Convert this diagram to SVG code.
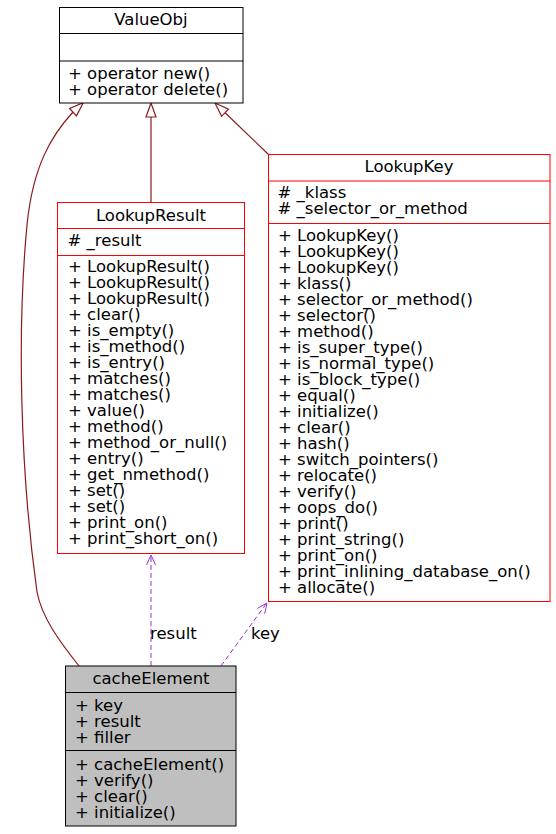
<svg xmlns="http://www.w3.org/2000/svg" width="556" height="834" viewBox="0 0 556 834">
<style>
text{font-family:"DejaVu Sans","Liberation Sans",sans-serif;font-size:16.5px;fill:#000}
.t{text-anchor:middle}
.box{fill:#fff;stroke:#000;stroke-width:1}
.rbox{fill:#fff;stroke:#ff0000;stroke-width:1}
.gbox{fill:#bfbfbf;stroke:#000;stroke-width:1}
.div{stroke:#000;stroke-width:1}
.rdiv{stroke:#ff0000;stroke-width:1}
.inh{fill:none;stroke:#8b1a1a;stroke-width:1.2}
.inhh{fill:#fff;stroke:#8b1a1a;stroke-width:1.2}
.col{fill:none;stroke:#9a32cd;stroke-width:1;stroke-dasharray:5,3}
.colh{fill:none;stroke:#9a32cd;stroke-width:1}
</style>
<rect width="556" height="834" fill="#fff"/>
<g id="connectors">
<path class="inh" d="M79,666 C60,642 42,618 37,592 C20,470 17,330 27,225 C33,165 52,135 73,112"/>
<polygon class="inhh" points="83.3,102.7 76.4,115.9 69.6,108.5"/>
<line class="inh" x1="151" y1="202.5" x2="151" y2="117"/>
<polygon class="inhh" points="151,103 146,117 156,117"/>
<line class="inh" x1="268.5" y1="154.5" x2="225.1" y2="112.7"/>
<polygon class="inhh" points="215,103 228.5,109.1 221.6,116.3"/>
<line class="col" x1="151" y1="666" x2="151" y2="556"/>
<polyline class="colh" points="146.5,565 151,555 155.5,565"/>
<text x="150" y="639">result</text>
<line class="col" x1="221" y1="666" x2="266" y2="604"/>
<polyline class="colh" points="257.4,608.4 267,603 264.7,613.7"/>
<text x="251" y="639">key</text>
</g>
<g id="ValueObj">
<rect class="box" x="59.5" y="7.5" width="183.5" height="95.5"/>
<line class="div" x1="59.5" y1="33.5" x2="243" y2="33.5"/>
<line class="div" x1="59.5" y1="61" x2="243" y2="61"/>
<text class="t" x="151" y="25">ValueObj</text>
<text x="68" y="79">+ operator new()</text>
<text x="68" y="95">+ operator delete()</text>
</g>
<g id="LookupResult">
<rect class="rbox" x="57.5" y="202.5" width="187" height="351"/>
<line class="rdiv" x1="57.5" y1="228.5" x2="244.5" y2="228.5"/>
<line class="rdiv" x1="57.5" y1="255.5" x2="244.5" y2="255.5"/>
<text class="t" x="151" y="221">LookupResult</text>
<text x="67.5" y="246"># _result</text>
<text x="68" y="272">+ LookupResult()</text>
<text x="68" y="288">+ LookupResult()</text>
<text x="68" y="304">+ LookupResult()</text>
<text x="68" y="320">+ clear()</text>
<text x="68" y="336">+ is_empty()</text>
<text x="68" y="352">+ is_method()</text>
<text x="68" y="368">+ is_entry()</text>
<text x="68" y="384">+ matches()</text>
<text x="68" y="400">+ matches()</text>
<text x="68" y="416">+ value()</text>
<text x="68" y="432">+ method()</text>
<text x="68" y="448">+ method_or_null()</text>
<text x="68" y="464">+ entry()</text>
<text x="68" y="480">+ get_nmethod()</text>
<text x="68" y="496">+ set()</text>
<text x="68" y="512">+ set()</text>
<text x="68" y="528">+ print_on()</text>
<text x="68" y="544">+ print_short_on()</text>
</g>
<g id="LookupKey">
<rect class="rbox" x="268.5" y="154.5" width="281.5" height="447"/>
<line class="rdiv" x1="268.5" y1="181" x2="550" y2="181"/>
<line class="rdiv" x1="268.5" y1="223.5" x2="550" y2="223.5"/>
<text class="t" x="409" y="172">LookupKey</text>
<text x="277.5" y="198"># _klass</text>
<text x="277.5" y="214"># _selector_or_method</text>
<text x="278" y="241">+ LookupKey()</text>
<text x="278" y="257">+ LookupKey()</text>
<text x="278" y="273">+ LookupKey()</text>
<text x="278" y="289">+ klass()</text>
<text x="278" y="305">+ selector_or_method()</text>
<text x="278" y="321">+ selector()</text>
<text x="278" y="337">+ method()</text>
<text x="278" y="353">+ is_super_type()</text>
<text x="278" y="369">+ is_normal_type()</text>
<text x="278" y="385">+ is_block_type()</text>
<text x="278" y="401">+ equal()</text>
<text x="278" y="417">+ initialize()</text>
<text x="278" y="433">+ clear()</text>
<text x="278" y="449">+ hash()</text>
<text x="278" y="465">+ switch_pointers()</text>
<text x="278" y="481">+ relocate()</text>
<text x="278" y="497">+ verify()</text>
<text x="278" y="513">+ oops_do()</text>
<text x="278" y="529">+ print()</text>
<text x="278" y="545">+ print_string()</text>
<text x="278" y="561">+ print_on()</text>
<text x="278" y="577">+ print_inlining_database_on()</text>
<text x="278" y="593">+ allocate()</text>
</g>
<g id="cacheElement">
<rect class="gbox" x="65.5" y="666" width="170.5" height="160"/>
<line class="div" x1="65.5" y1="692.5" x2="236" y2="692.5"/>
<line class="div" x1="65.5" y1="750.5" x2="236" y2="750.5"/>
<text class="t" x="151" y="684">cacheElement</text>
<text x="75" y="711">+ key</text>
<text x="75" y="727">+ result</text>
<text x="75" y="743">+ filler</text>
<text x="75" y="770">+ cacheElement()</text>
<text x="75" y="786">+ verify()</text>
<text x="75" y="802">+ clear()</text>
<text x="75" y="818">+ initialize()</text>
</g>
</svg>
